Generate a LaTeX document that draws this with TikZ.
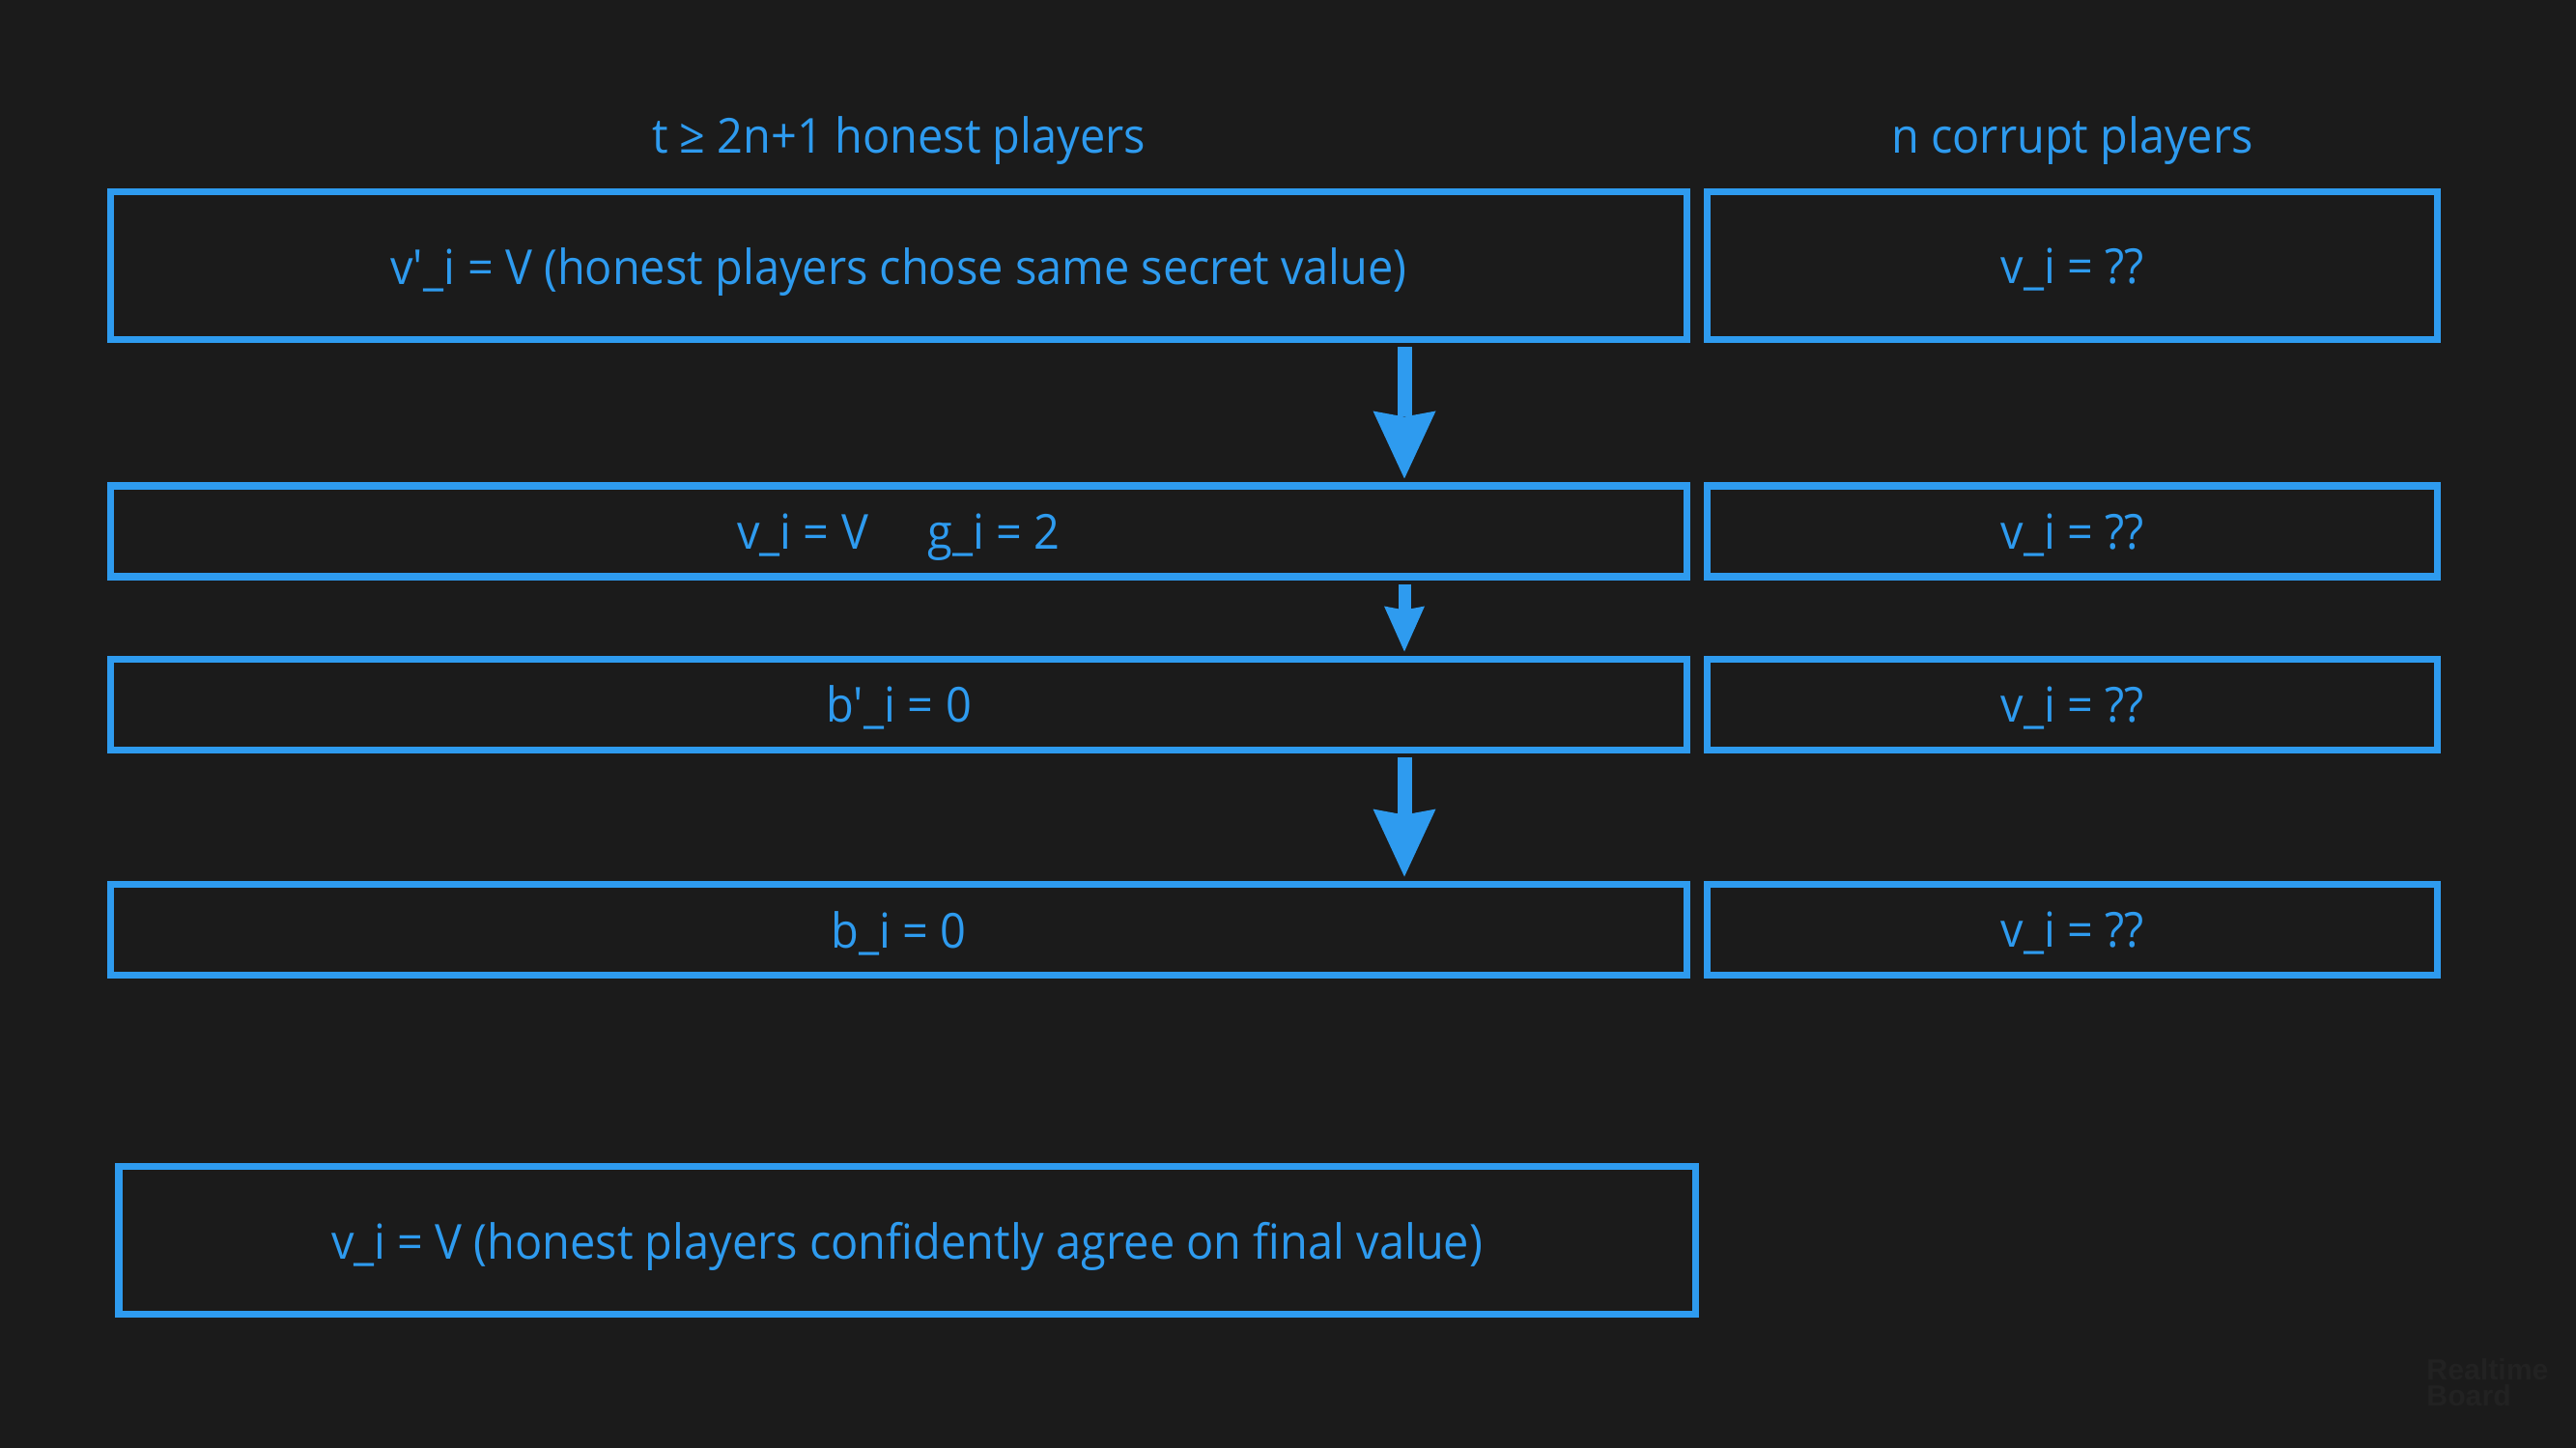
\documentclass[tikz,border=0pt]{standalone}
\usepackage{fontspec}
\setmainfont{Open Sans}[FakeStretch=0.94]
\newfontfamily\boardfont{Liberation Sans}
\usetikzlibrary{arrows.meta,positioning,calc}
\definecolor{boardbg}{HTML}{1B1B1B}
\definecolor{boardblue}{HTML}{2E9BEF}
\definecolor{boardmark}{HTML}{222222}
\tikzset{
  every node/.append style={font=\fontsize{14.2}{17}\selectfont, text=boardblue},
}
\tikzset{
  box/.style={draw=boardblue, line width=2pt, inner sep=0pt, align=center, text depth=0pt},
  head/.style={inner sep=0pt, align=center},
  flow/.style={draw=boardblue, line width=1.5mm, shorten <=0.4mm, shorten >=0.4mm,
               -{Stealth[length=7mm, width=6.5mm, inset=0.6mm, line width=0pt]}},
  smallflow/.style={draw=boardblue, line width=1.3mm, shorten <=0.4mm, shorten >=0.4mm,
               -{Stealth[length=4.7mm, width=4.2mm, inset=0.4mm, line width=0pt]}}
}

\begin{document}
\begin{tikzpicture}[
  node distance=1.44cm and 0.14cm,
  wide/.style={box, minimum width=16.32cm},
  narrow/.style={box, minimum width=7.56cm},
  row/.style={minimum height=0.94cm}
]

% background and page size
\fill[boardbg] (0,0) rectangle (26.67,14.99);
\useasboundingbox (0,0) rectangle (26.67,14.99);

% first round: secret values
\node[wide, minimum height=1.53cm] (honest) at (9.305,12.235)
  {v\textquotesingle\_i = V (honest players chose same secret value)};
\node[narrow, minimum height=1.53cm, right=of honest] (corrupt) {v\_i = ??};

% column headers
\node[head] (honesthead) at ($(honest.north)+(0,0.50)$) {t ≥ 2n+1 honest players};
\node[head] (corrupthead) at ($(corrupt.north)+(0,0.50)$) {n corrupt players};

% later rounds
\node[wide, row, below=of honest] (grade) {v\_i = V\hspace{0.62cm}g\_i = 2};
\node[narrow, row, right=of grade] (gradec) {v\_i = ??};
\node[wide, row, below=0.78cm of grade] (bitp) {b\textquotesingle\_i = 0};
\node[narrow, row, right=of bitp] (bitpc) {v\_i = ??};
\node[wide, row, below=1.32cm of bitp] (bit) {b\_i = 0};
\node[narrow, row, right=of bit] (bitc) {v\_i = ??};

% outcome
\node[wide, minimum height=1.53cm] (final) at (9.39,2.15)
  {v\_i = V (honest players confidently agree on final value)};

% arrows down the honest column
\coordinate (axis) at (14.54,0);
\draw[flow] (honest.south -| axis) -- (grade.north -| axis);
\draw[smallflow] (grade.south -| axis) -- (bitp.north -| axis);
\draw[flow] (bitp.south -| axis) -- (bit.north -| axis);

% board watermark
\node[anchor=west, align=left, text=boardmark, font=\boardfont\bfseries\fontsize{8.6}{7.8}\selectfont]
  (mark) at (25.0,0.68) {Realtime\\Board};

\end{tikzpicture}
\end{document}
